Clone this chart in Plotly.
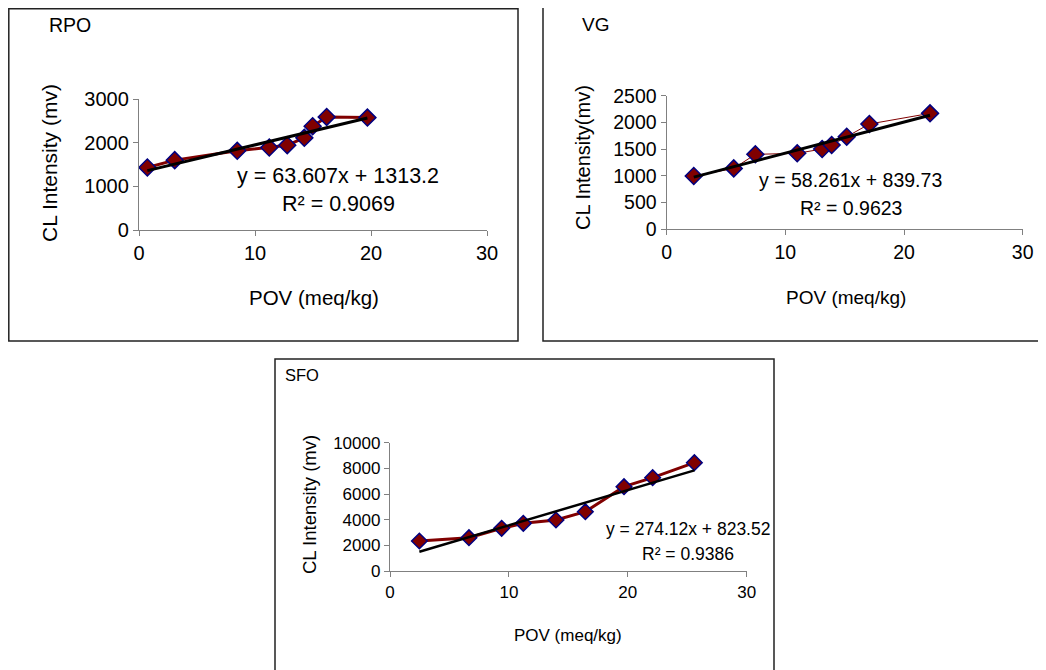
import plotly.graph_objects as go

W, H = 1046, 670
OFF = 8  # page body margin offset in the browser

# ---------------- data ----------------
rpo_x = [0.72, 3.08, 8.47, 11.23, 12.78, 14.25, 14.97, 16.18, 19.69]
rpo_y = [1432, 1600, 1813, 1889, 1942, 2110, 2376, 2590, 2574]
rpo_slope, rpo_int, rpo_r2 = 63.607, 1313.2, 0.9069

vg_x = [2.28, 5.65, 7.47, 11.0, 13.1, 13.9, 15.17, 17.08, 22.19]
vg_y = [994, 1137, 1400, 1419, 1500, 1575, 1731, 1969, 2169]
vg_slope, vg_int, vg_r2 = 58.261, 839.73, 0.9623

sfo_x = [2.47, 6.64, 9.39, 11.21, 13.96, 16.43, 19.68, 22.09, 25.6]
sfo_y = [2338, 2597, 3325, 3714, 3974, 4623, 6571, 7273, 8442]
sfo_slope, sfo_int, sfo_r2 = 274.12, 823.52, 0.9386

x_ticks = [0, 10, 20, 30]
rpo_yticks = [0, 1000, 2000, 3000]
vg_yticks = [0, 500, 1000, 1500, 2000, 2500]
sfo_yticks = [0, 2000, 4000, 6000, 8000, 10000]

FONT = "Liberation Sans, Arial, sans-serif"
DARKRED = "#800000"
NAVY = "#000080"
AXC = "#808080"

def px(x):
    return (x - OFF) / W

def py(y):
    return 1 - (y - OFF) / H

fig = go.Figure()

panels = [
    dict(name="RPO", xs=rpo_x, ys=rpo_y, m=rpo_slope, b=rpo_int, r2=rpo_r2, yt=rpo_yticks,
         ax="", xd=(139, 487), yd=(230, 99), lw=3, tw=3, ms=13, tick_fs=20,
         title_fs=19.5, xt_fs=20.5, yt_fs=21, eq_fs=21.5,
         ytitle="CL Intensity (mv)", ytx=49, yty=163, xtx=314, xty=298,
         title_xy=(47, 25), eq_xy=(338, 176), r2_xy=(338, 204)),
    dict(name="VG", xs=vg_x, ys=vg_y, m=vg_slope, b=vg_int, r2=vg_r2, yt=vg_yticks,
         ax="2", xd=(666.7, 1022.7), yd=(229, 95.7), lw=1, tw=3, ms=13, tick_fs=19.5,
         title_fs=19, xt_fs=19, yt_fs=20, eq_fs=19.5,
         ytitle="CL Intensity(mv)", ytx=583, yty=158, xtx=846, xty=297,
         title_xy=(580, 25), eq_xy=(850, 180), r2_xy=(851, 208)),
    dict(name="SFO", xs=sfo_x, ys=sfo_y, m=sfo_slope, b=sfo_int, r2=sfo_r2, yt=sfo_yticks,
         ax="3", xd=(390, 746.7), yd=(571, 442.7), lw=3, tw=2.5, ms=12, tick_fs=17,
         title_fs=16.5, xt_fs=17, yt_fs=18.5, eq_fs=17.5,
         ytitle="CL Intensity (mv)", ytx=309, yty=505, xtx=568, xty=635,
         title_xy=(283, 375), eq_xy=(688, 529), r2_xy=(688, 554)),
]

annotations = []
for p in panels:
    xa = "x" + p["ax"]
    ya = "y" + p["ax"]
    fig.add_trace(go.Scatter(
        x=p["xs"], y=p["ys"], mode="lines+markers", xaxis=xa, yaxis=ya,
        line=dict(color=DARKRED, width=p["lw"]),
        marker=dict(symbol="diamond", size=p["ms"], color=DARKRED,
                    line=dict(color=NAVY, width=1.5)),
        showlegend=False, cliponaxis=False))
    x0, x1 = min(p["xs"]), max(p["xs"])
    fig.add_trace(go.Scatter(
        x=[x0, x1], y=[p["m"] * x0 + p["b"], p["m"] * x1 + p["b"]],
        mode="lines", xaxis=xa, yaxis=ya,
        line=dict(color="black", width=p["tw"]), showlegend=False, cliponaxis=False))

    axis_common = dict(showline=True, linecolor=AXC, linewidth=1.3, ticks="outside",
                       ticklen=5, tickcolor=AXC, tickwidth=1.3, showgrid=False,
                       zeroline=False, automargin=False,
                       tickfont=dict(family=FONT, size=p["tick_fs"], color="black"))
    fig.update_layout(**{
        "xaxis" + p["ax"]: dict(domain=[px(p["xd"][0]), px(p["xd"][1])], range=[0, 30],
                                tickvals=x_ticks, ticktext=[str(v) for v in x_ticks],
                                anchor=ya, **axis_common),
        "yaxis" + p["ax"]: dict(domain=[py(p["yd"][0]), py(p["yd"][1])],
                                range=[0, p["yt"][-1]], tickvals=p["yt"],
                                ticktext=[str(v) for v in p["yt"]], anchor=xa,
                                **axis_common),
    })

    def fnt(s):
        return dict(family=FONT, size=s, color="black")

    annotations += [
        dict(text=p["name"], x=px(p["title_xy"][0]), y=py(p["title_xy"][1]), xref="paper",
             yref="paper", xanchor="left", yanchor="middle", showarrow=False,
             font=fnt(p["title_fs"])),
        dict(text=p["ytitle"], x=px(p["ytx"]), y=py(p["yty"]), xref="paper", yref="paper",
             xanchor="center", yanchor="middle", textangle=-90, showarrow=False,
             font=fnt(p["yt_fs"])),
        dict(text="POV (meq/kg)", x=px(p["xtx"]), y=py(p["xty"]), xref="paper", yref="paper",
             xanchor="center", yanchor="middle", showarrow=False, font=fnt(p["xt_fs"])),
        dict(text=f"y = {p['m']}x + {p['b']}", x=px(p["eq_xy"][0]), y=py(p["eq_xy"][1]),
             xref="paper", yref="paper", xanchor="center", yanchor="middle",
             showarrow=False, font=fnt(p["eq_fs"])),
        dict(text=f"R\u00b2 = {p['r2']:.4f}", x=px(p["r2_xy"][0]), y=py(p["r2_xy"][1]),
             xref="paper", yref="paper", xanchor="center", yanchor="middle",
             showarrow=False, font=fnt(p["eq_fs"])),
    ]

boxes = [(8.8, 8.8, 518, 341), (543, 7, 1042, 341), (275, 359, 774, 690)]
shapes = [dict(type="rect", xref="paper", yref="paper", x0=px(a), y0=py(d), x1=px(c), y1=py(b),
               line=dict(color="#222222", width=1.5)) for a, b, c, d in boxes]

fig.update_layout(template="none", width=W, height=H, margin=dict(l=0, r=0, t=0, b=0),
                  paper_bgcolor="white", plot_bgcolor="rgba(0,0,0,0)",
                  annotations=annotations, shapes=shapes,
                  font=dict(family=FONT, size=19, color="black"))

fig.write_html("out.html")
